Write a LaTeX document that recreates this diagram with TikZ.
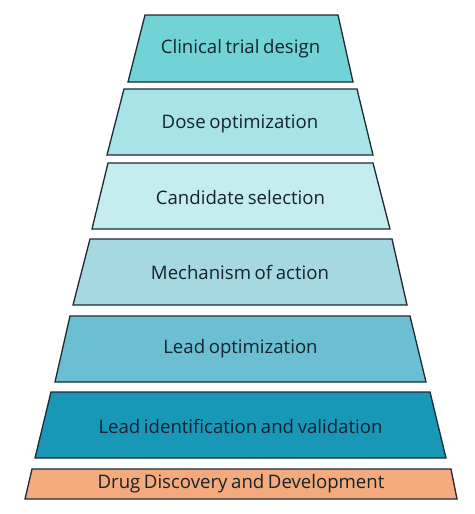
\documentclass[tikz,border=0pt]{standalone}
\usepackage{fontspec}
\setmainfont{Open Sans}[WordSpace={0.75,0.5,0.5}]
\definecolor{c1}{HTML}{72D3D6}
\definecolor{c2}{HTML}{A8E3E7}
\definecolor{c3}{HTML}{C5EDF0}
\definecolor{c4}{HTML}{A6D8E2}
\definecolor{c5}{HTML}{6CBFD3}
\definecolor{c6}{HTML}{1997B7}
\definecolor{c7}{HTML}{F4AA7C}
\definecolor{edge}{HTML}{1C2A33}
\definecolor{txt}{HTML}{14232C}
\tikzset{
  layer/.style={draw=edge, line width=1.3pt, line join=miter},
  lbl/.style={text=txt, font=\fontsize{18.6}{21}\selectfont, inner sep=0pt},
}
\begin{document}
\begin{tikzpicture}[x=1pt,y=-1pt]
\useasboundingbox (0,0) rectangle (474,514);
\fill[white] (0,0) rectangle (474,514);
% layers
\filldraw[layer, fill=c1] (145,15) -- (338,15) -- (353,82) -- (128,82) -- cycle;
\node[lbl] (l1) at (240.5,48.5) {Clinical trial design};
\filldraw[layer, fill=c2] (124,89) -- (357,89) -- (373,155) -- (107,155) -- cycle;
\node[lbl] (l2) at (240,124) {Dose optimization};
\filldraw[layer, fill=c3] (108,163) -- (373,163) -- (390,229) -- (92,229) -- cycle;
\node[lbl] (l3) at (240.5,198) {Candidate selection};
\filldraw[layer, fill=c4] (90,239) -- (392,239) -- (407,305) -- (73,305) -- cycle;
\node[lbl] (l4) at (240,272) {Mechanism of action};
\filldraw[layer, fill=c5] (70,316) -- (410,316) -- (426,382) -- (55,382) -- cycle;
\node[lbl] (l5) at (240.5,349) {Lead optimization};
\filldraw[layer, fill=c6] (51,392) -- (430,392) -- (446,458) -- (35,458) -- cycle;
\node[lbl] (l6) at (240.5,426) {Lead identification and validation};
\filldraw[layer, fill=c7] (32,469) -- (451,469) -- (457,499) -- (25,499) -- cycle;
\node[lbl] (l7) at (241,484) {Drug Discovery and Development};
\end{tikzpicture}
\end{document}
